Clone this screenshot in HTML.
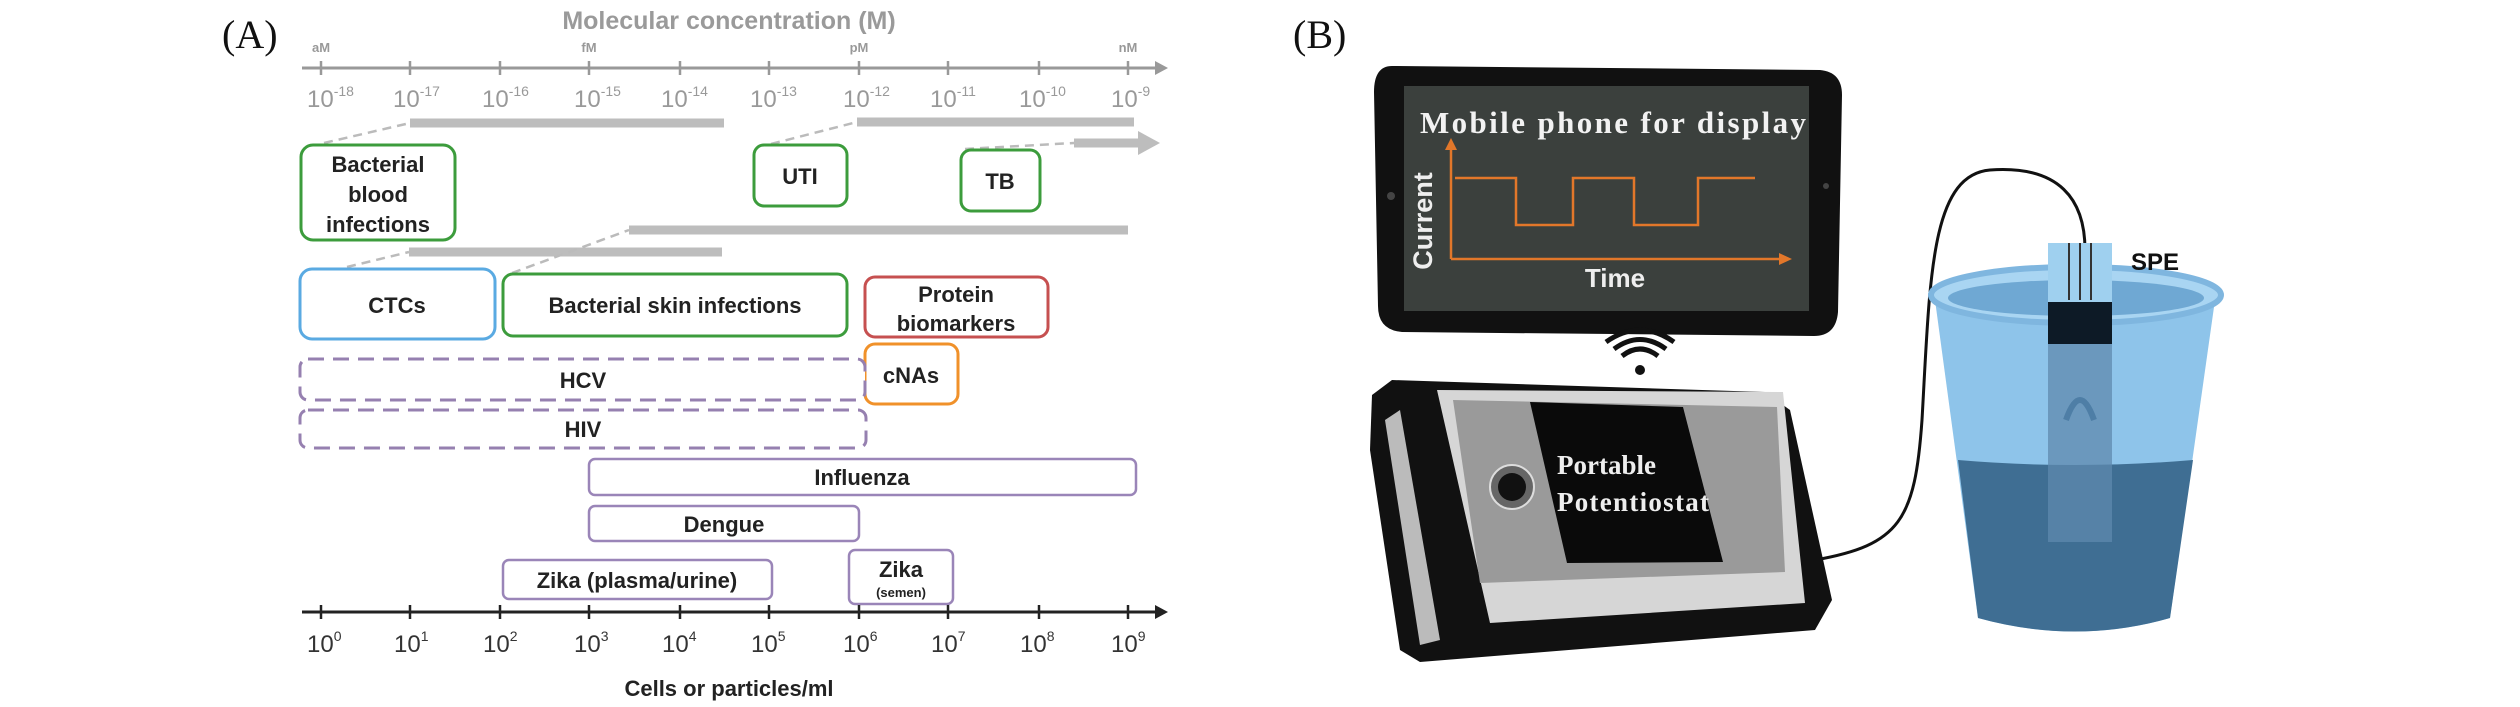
<!DOCTYPE html>
<html><head><meta charset="utf-8"><style>
html,body{margin:0;padding:0;background:#fff;}
svg{display:block}
</style></head><body>
<svg width="2520" height="707" viewBox="0 0 2520 707" xmlns="http://www.w3.org/2000/svg" font-family="Liberation Sans, sans-serif">
<rect width="2520" height="707" fill="#fff"/>
<!-- Panel A -->
<text x="222" y="48" font-family="Liberation Serif, serif" font-size="40" fill="#111">(A)</text>
<text x="729" y="29" font-size="25" font-weight="bold" fill="#9a9a9a" text-anchor="middle">Molecular concentration (M)</text>
<g font-size="13" font-weight="bold" fill="#999" text-anchor="middle">
<text x="321" y="52">aM</text><text x="589" y="52">fM</text><text x="859" y="52">pM</text><text x="1128" y="52">nM</text>
</g>
<line x1="302" y1="68" x2="1158" y2="68" stroke="#999" stroke-width="3"/>
<polygon points="1168,68 1155,61 1155,75" fill="#999"/>
<g stroke="#999" stroke-width="2.5">
<line x1="321" y1="61" x2="321" y2="75"/><line x1="410" y1="61" x2="410" y2="75"/><line x1="500" y1="61" x2="500" y2="75"/><line x1="589" y1="61" x2="589" y2="75"/><line x1="680" y1="61" x2="680" y2="75"/><line x1="769" y1="61" x2="769" y2="75"/><line x1="859" y1="61" x2="859" y2="75"/><line x1="948" y1="61" x2="948" y2="75"/><line x1="1039" y1="61" x2="1039" y2="75"/><line x1="1128" y1="61" x2="1128" y2="75"/>
</g>
<g font-size="24" fill="#999">
<text x="307" y="107">10<tspan font-size="14" dy="-11">-18</tspan></text>
<text x="393" y="107">10<tspan font-size="14" dy="-11">-17</tspan></text>
<text x="482" y="107">10<tspan font-size="14" dy="-11">-16</tspan></text>
<text x="574" y="107">10<tspan font-size="14" dy="-11">-15</tspan></text>
<text x="661" y="107">10<tspan font-size="14" dy="-11">-14</tspan></text>
<text x="750" y="107">10<tspan font-size="14" dy="-11">-13</tspan></text>
<text x="843" y="107">10<tspan font-size="14" dy="-11">-12</tspan></text>
<text x="930" y="107">10<tspan font-size="14" dy="-11">-11</tspan></text>
<text x="1019" y="107">10<tspan font-size="14" dy="-11">-10</tspan></text>
<text x="1111" y="107">10<tspan font-size="14" dy="-11">-9</tspan></text>
</g>
<!-- gray bars -->
<g stroke="#bdbdbd" stroke-width="9">
<line x1="410" y1="123" x2="724" y2="123"/>
<line x1="857" y1="122" x2="1134" y2="122"/>
<line x1="1074" y1="143" x2="1140" y2="143"/>
<line x1="629" y1="230" x2="1128" y2="230"/>
<line x1="409" y1="252" x2="722" y2="252"/>
</g>
<polygon points="1160,143 1138,131 1138,155" fill="#bdbdbd"/>
<g stroke="#bbb" stroke-width="2.5" stroke-dasharray="9,6" fill="none">
<line x1="324" y1="143" x2="410" y2="123"/>
<line x1="771" y1="144" x2="857" y2="122"/>
<line x1="965" y1="149" x2="1074" y2="143"/>
<line x1="347" y1="267" x2="409" y2="252"/>
<line x1="512" y1="273" x2="629" y2="230"/>
</g>
<!-- boxes -->
<g fill="#fff" stroke-width="3">
<rect x="301" y="145" width="154" height="95" rx="12" stroke="#3c9c3c"/>
<rect x="754" y="145" width="93" height="61" rx="10" stroke="#3c9c3c"/>
<rect x="961" y="150" width="79" height="61" rx="10" stroke="#3c9c3c"/>
<rect x="300" y="269" width="195" height="70" rx="12" stroke="#5aaae2"/>
<rect x="503" y="274" width="344" height="62" rx="10" stroke="#3c9c3c"/>
<rect x="865" y="277" width="183" height="60" rx="10" stroke="#c65050"/>
<rect x="865" y="344" width="93" height="60" rx="10" stroke="#f0912a"/>
<rect x="300" y="359" width="565" height="41" rx="8" stroke="#9680b0" stroke-dasharray="16,9"/>
<rect x="300" y="410" width="566" height="38" rx="8" stroke="#9680b0" stroke-dasharray="16,9"/>
<rect x="589" y="459" width="547" height="36" rx="6" stroke="#9a85b8" stroke-width="2.5"/>
<rect x="589" y="506" width="270" height="35" rx="6" stroke="#9a85b8" stroke-width="2.5"/>
<rect x="503" y="560" width="269" height="39" rx="6" stroke="#9a85b8" stroke-width="2.5"/>
<rect x="849" y="550" width="104" height="54" rx="6" stroke="#9a85b8" stroke-width="2.5"/>
</g>
<g font-size="22" font-weight="bold" fill="#222" text-anchor="middle">
<text x="378" y="172">Bacterial</text><text x="378" y="202">blood</text><text x="378" y="232">infections</text>
<text x="800" y="184">UTI</text>
<text x="1000" y="189">TB</text>
<text x="397" y="313">CTCs</text>
<text x="675" y="313">Bacterial skin infections</text>
<text x="956" y="302">Protein</text><text x="956" y="331">biomarkers</text>
<text x="911" y="383">cNAs</text>
<text x="583" y="388">HCV</text>
<text x="583" y="437">HIV</text>
<text x="862" y="485">Influenza</text>
<text x="724" y="532">Dengue</text>
<text x="637" y="588">Zika (plasma/urine)</text>
<text x="901" y="577">Zika</text>
<text x="901" y="597" font-size="13">(semen)</text>
</g>
<!-- bottom axis -->
<line x1="302" y1="612" x2="1158" y2="612" stroke="#222" stroke-width="3"/>
<polygon points="1168,612 1155,605 1155,619" fill="#222"/>
<g stroke="#222" stroke-width="2.5">
<line x1="321" y1="605" x2="321" y2="619"/><line x1="410" y1="605" x2="410" y2="619"/><line x1="500" y1="605" x2="500" y2="619"/><line x1="589" y1="605" x2="589" y2="619"/><line x1="680" y1="605" x2="680" y2="619"/><line x1="769" y1="605" x2="769" y2="619"/><line x1="859" y1="605" x2="859" y2="619"/><line x1="948" y1="605" x2="948" y2="619"/><line x1="1039" y1="605" x2="1039" y2="619"/><line x1="1128" y1="605" x2="1128" y2="619"/>
</g>
<g font-size="24" fill="#333">
<text x="307" y="652">10<tspan font-size="14" dy="-11">0</tspan></text>
<text x="394" y="652">10<tspan font-size="14" dy="-11">1</tspan></text>
<text x="483" y="652">10<tspan font-size="14" dy="-11">2</tspan></text>
<text x="574" y="652">10<tspan font-size="14" dy="-11">3</tspan></text>
<text x="662" y="652">10<tspan font-size="14" dy="-11">4</tspan></text>
<text x="751" y="652">10<tspan font-size="14" dy="-11">5</tspan></text>
<text x="843" y="652">10<tspan font-size="14" dy="-11">6</tspan></text>
<text x="931" y="652">10<tspan font-size="14" dy="-11">7</tspan></text>
<text x="1020" y="652">10<tspan font-size="14" dy="-11">8</tspan></text>
<text x="1111" y="652">10<tspan font-size="14" dy="-11">9</tspan></text>
</g>
<text x="729" y="696" font-size="22" font-weight="bold" fill="#222" text-anchor="middle">Cells or particles/ml</text>

<!-- Panel B -->
<text x="1293" y="48" font-family="Liberation Serif, serif" font-size="40" fill="#111">(B)</text>
<!-- tablet -->
<path d="M1392,66 L1820,70 Q1842,72 1842,95 L1838,312 Q1836,336 1814,336 L1402,332 Q1378,330 1378,306 L1374,92 Q1374,66 1392,66 Z" fill="#111"/>
<rect x="1404" y="86" width="405" height="225" fill="#3b403d"/>
<circle cx="1391" cy="196" r="4" fill="#444"/>
<circle cx="1826" cy="186" r="3" fill="#444"/>
<text x="1420" y="133" font-family="Liberation Serif, serif" font-weight="bold" font-size="31" fill="#f2f2f2" textLength="386">Mobile phone for display</text>
<g stroke="#e2772a" stroke-width="2.5" fill="none">
<line x1="1451" y1="259" x2="1783" y2="259"/>
<line x1="1451" y1="259" x2="1451" y2="146"/>
<polyline points="1455,178 1516,178 1516,225 1573,225 1573,178 1634,178 1634,225 1698,225 1698,178 1755,178"/>
</g>
<polygon points="1792,259 1779,253 1779,265" fill="#e2772a"/>
<polygon points="1451,138 1445,150 1457,150" fill="#e2772a"/>
<text transform="translate(1432,221) rotate(-90)" font-size="27" font-weight="bold" fill="#eee" text-anchor="middle">Current</text>
<text x="1615" y="287" font-size="26" font-weight="bold" fill="#eee" text-anchor="middle">Time</text>
<!-- wifi -->
<g fill="none" stroke="#111" stroke-width="5">
<path d="M1622,356 Q1640,342 1658,356"/>
<path d="M1614,349 Q1640,330 1666,349"/>
<path d="M1606,342 Q1640,318 1674,342"/>
</g>
<circle cx="1640" cy="370" r="5" fill="#111"/>
<!-- cable -->
<path d="M1815,560 C1900,545 1915,520 1922,420 C1930,280 1930,175 1990,170 C2060,165 2085,200 2085,250" fill="none" stroke="#111" stroke-width="3"/>
<!-- device -->
<polygon points="1372,395 1392,380 1765,392 1790,410 1832,600 1815,630 1420,662 1400,650 1370,450" fill="#111"/>
<polygon points="1437,390 1783,392 1805,603 1490,623" fill="#d6d6d6"/>
<polygon points="1453,400 1777,407 1785,572 1480,583" fill="#9a9a9a"/>
<polygon points="1530,402 1683,407 1723,562 1567,563" fill="#0a0a0a"/>
<polygon points="1385,420 1400,410 1440,640 1420,645" fill="#bbb"/>
<circle cx="1512" cy="487" r="22" fill="#666" stroke="#ddd" stroke-width="2"/>
<circle cx="1512" cy="487" r="14" fill="#111"/>
<text x="1557" y="474" font-family="Liberation Serif, serif" font-weight="bold" font-size="27" fill="#eee">Portable</text>
<text x="1557" y="511" font-family="Liberation Serif, serif" font-weight="bold" font-size="27" fill="#eee" textLength="152">Potentiostat</text>
<!-- beaker -->
<path d="M1935,300 L1978,618 Q2075,645 2170,618 L2215,300 Z" fill="#8ec4ea"/>
<path d="M1958,460 L1978,618 Q2075,645 2170,618 L2193,460 Q2075,470 1958,460 Z" fill="#3f6e93"/>
<ellipse cx="2076" cy="295" rx="145" ry="28" fill="#a9d5f2" stroke="#7fb6df" stroke-width="6"/>
<ellipse cx="2076" cy="298" rx="128" ry="18" fill="#6fa8d3"/>
<rect x="2048" y="243" width="64" height="60" fill="#9fd0ef"/>
<g stroke="#333" stroke-width="2"><line x1="2069" y1="243" x2="2069" y2="300"/><line x1="2080" y1="243" x2="2080" y2="300"/><line x1="2091" y1="243" x2="2091" y2="300"/></g>
<rect x="2048" y="302" width="64" height="42" fill="#0d1a26"/>
<rect x="2048" y="344" width="64" height="198" fill="#5f89ad" opacity="0.75"/>
<path d="M2066,420 Q2080,380 2094,420" fill="none" stroke="#4e7ea6" stroke-width="6"/>
<text x="2131" y="270" font-size="24" font-weight="bold" fill="#111">SPE</text>
</svg>
</body></html>
